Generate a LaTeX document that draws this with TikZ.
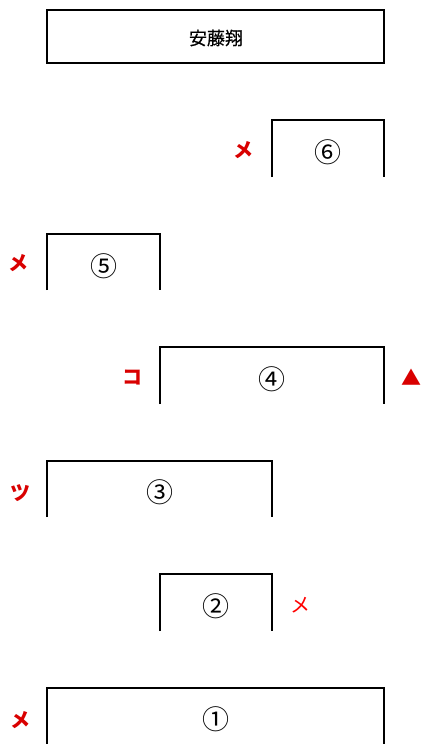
\documentclass[tikz,border=0pt]{standalone}
\usepackage{fontspec}
\newfontfamily\cjk{Noto Sans CJK JP}
\newfontfamily\cjkm[FakeBold=0.6]{Noto Sans CJK JP}
\begin{document}
\begin{tikzpicture}[x=1pt,y=-1pt,
  box/.style={line width=1.6pt},
  num/.style={font=\cjk\fontsize{27}{27}\selectfont, inner sep=0pt},
  redlab/.style={text=red!85!black, font=\cjk\fontsize{20}{20}\selectfont\bfseries, inner sep=0pt},
  thinlab/.style={text=red, font=\cjk\fontsize{20}{20}\selectfont, inner sep=0pt}]
\useasboundingbox (0,0) rectangle (423,744);
% title
\draw[box] (47,10) rectangle (384,63);
\node[font=\cjkm\fontsize{18}{18}\selectfont] (t) at (216,38) {安藤翔};
% box 6
\draw[box] (272,177) -- (272,120) -- (384,120) -- (384,177);
\node[num] (n6) at (328,152) {⑥};
\node[redlab] (l6) at (243,150) {メ};
% box 5
\draw[box] (47,290) -- (47,234) -- (160,234) -- (160,290);
\node[num] (n5) at (104,266) {⑤};
\node[redlab] (l5) at (19,263) {メ};
% box 4
\draw[box] (160,404) -- (160,347) -- (384,347) -- (384,404);
\node[num] (n4) at (272,379) {④};
\node[redlab] (l4) at (132,378) {コ};
\node[text=red!85!black, font=\cjk\fontsize{20}{20}\selectfont, inner sep=0pt] (l4b) at (411,377) {▲};
% box 3
\draw[box] (47,517) -- (47,461) -- (272,461) -- (272,517);
\node[num] (n3) at (160,492) {③};
\node[redlab] (l3) at (20,493) {ツ};
% box 2
\draw[box] (160,631) -- (160,574) -- (272,574) -- (272,631);
\node[num] (n2) at (216,606) {②};
\node[thinlab] (l2) at (300,605) {メ};
% box 1
\draw[box] (47,745) -- (47,688) -- (384,688) -- (384,745);
\node[num] (n1) at (216,719) {①};
\node[redlab] (l1) at (20,720) {メ};
\end{tikzpicture}
\end{document}
